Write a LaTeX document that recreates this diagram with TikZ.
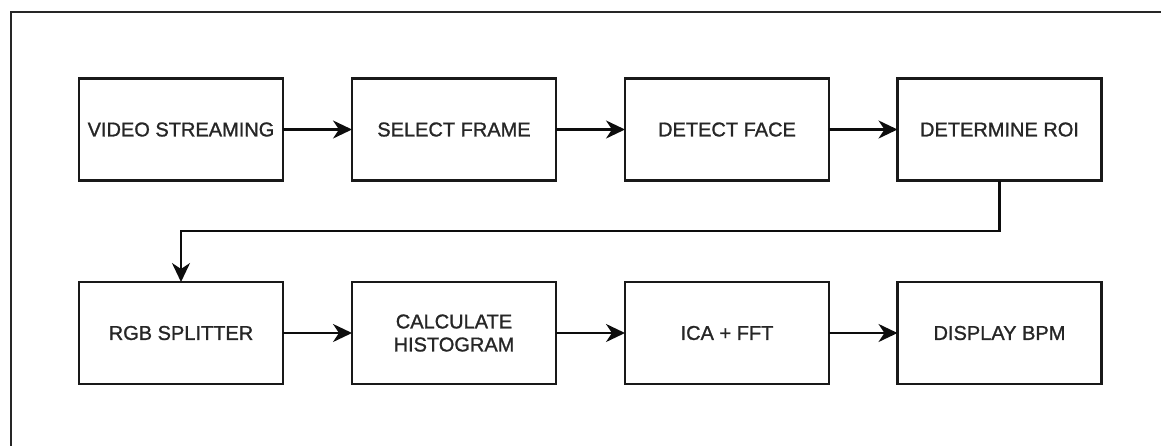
\documentclass[tikz,border=0pt]{standalone}
\usepackage{fontspec}
\setmainfont{Liberation Sans}[FakeBold=1.2]
\usetikzlibrary{arrows.meta}
\tikzset{
  stepbox/.style={draw=black!90, line width=2.8pt, minimum width=204pt, minimum height=102pt,
    inner sep=0pt, outer sep=0pt, align=center, text=black!85,
    font=\fontsize{20}{23}\selectfont},
  flow/.style={draw=black!95, line width=2.6pt,
    -{Stealth[length=19pt,width=18pt,inset=6pt]}},
  frame/.style={draw=black!85, line width=2.6pt}
}
\begin{document}
\begin{tikzpicture}[x=1pt,y=-1pt]
\useasboundingbox (0,0) rectangle (1161,445);
\draw[frame] (11,460) -- (11,12) -- (1175,12);
\node[stepbox] (video) at (181,129.5) {VIDEO STREAMING};
\node[stepbox] (select) at (454,129.5) {SELECT FRAME};
\node[stepbox] (detect) at (727,129.5) {DETECT FACE};
\node[stepbox] (roi) at (999.5,129.5) {DETERMINE ROI};
\node[stepbox] (rgb) at (181,333) {RGB SPLITTER};
\node[stepbox] (hist) at (454,333) {CALCULATE\\HISTOGRAM};
\node[stepbox] (ica) at (727,333) {ICA + FFT};
\node[stepbox] (bpm) at (999.5,333) {DISPLAY BPM};
\coordinate (bend) at (999.5,231);
\draw[flow] (video) -- (select);
\draw[flow] (select) -- (detect);
\draw[flow] (detect) -- (roi);
\draw[flow] (roi.south) -- (bend) -| (rgb.north);
\draw[flow] (rgb) -- (hist);
\draw[flow] (hist) -- (ica);
\draw[flow] (ica) -- (bpm);
\end{tikzpicture}
\end{document}
